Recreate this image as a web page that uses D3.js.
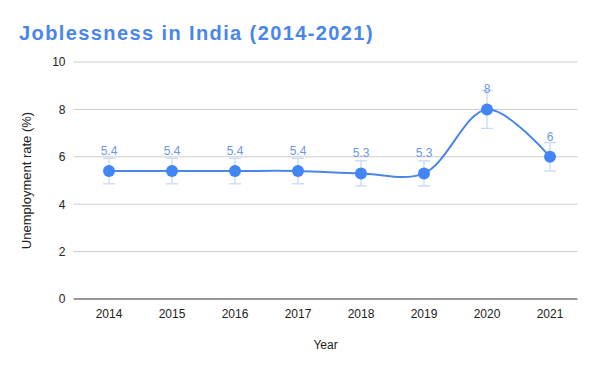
<!DOCTYPE html>
<html>
<head>
<meta charset="utf-8">
<script src="https://cdn.jsdelivr.net/npm/d3@7"></script>
<style>
  body { margin: 0; background: #fff; }
  text { font-family: Arial, "Liberation Sans", sans-serif; }
</style>
</head>
<body>
<div id="chart"></div>
<script>
// Data
const years = ["2014", "2015", "2016", "2017", "2018", "2019", "2020", "2021"];
const rates = [5.4, 5.4, 5.4, 5.4, 5.3, 5.3, 8, 6];
const rateLabels = ["5.4", "5.4", "5.4", "5.4", "5.3", "5.3", "8", "6"];
const yTicks = [0, 2, 4, 6, 8, 10];
const errorPct = 0.1; // error bars are +/- 10% of the value

const w = 600;
const h = 371;
const padLeft = 77.5;
const padRight = 581.5;
const padTop = 62;
const padBottom = 299;

const svg = d3.select("#chart")
  .append("svg")
  .attr("width", w)
  .attr("height", h);

const xScale = d3.scaleBand()
  .domain(years)
  .range([padLeft, padRight]);

const yScale = d3.scaleLinear()
  .domain([0, 10])
  .range([padBottom, padTop]);

// Gridlines
svg.append("g")
  .selectAll("line")
  .data(yTicks.filter(d => d !== 0))
  .enter()
  .append("line")
    .attr("x1", padLeft - 4)
    .attr("x2", padRight - 4)
    .attr("y1", d => yScale(d))
    .attr("y2", d => yScale(d))
    .attr("stroke", "#cccccc")
    .attr("stroke-width", 1);

// Y axis labels
const yAxis = d3.axisLeft(yScale).tickValues(yTicks).tickSize(0).tickPadding(8);
const yG = svg.append("g")
  .attr("transform", "translate(" + (padLeft - 4) + ",0)")
  .call(yAxis);
yG.select(".domain").remove();
yG.selectAll("text").attr("font-size", 12).attr("fill", "#222");

// X axis
const xAxis = d3.axisBottom(xScale).tickSize(0).tickPadding(10);
const xG = svg.append("g")
  .attr("transform", "translate(0," + padBottom + ")")
  .call(xAxis);
xG.select(".domain").remove();
xG.selectAll("text").attr("font-size", 12).attr("fill", "#222");

svg.append("line")
  .attr("x1", padLeft - 4)
  .attr("x2", padRight - 4)
  .attr("y1", yScale(0))
  .attr("y2", yScale(0))
  .attr("stroke", "#333")
  .attr("stroke-width", 1);

const cx = d => xScale(d) + xScale.bandwidth() / 2;
const pts = years.map((y, i) => ({ year: y, v: rates[i], label: rateLabels[i] }));

// Error bars
const eb = svg.append("g").attr("stroke", "#c6d9f7").attr("stroke-width", 1.3);
pts.forEach(d => {
  const hi = yScale(d.v * (1 + errorPct));
  const lo = yScale(d.v * (1 - errorPct));
  const x = cx(d.year);
  eb.append("line").attr("x1", x).attr("x2", x).attr("y1", hi).attr("y2", lo);
  eb.append("line").attr("x1", x - 6).attr("x2", x + 6).attr("y1", hi).attr("y2", hi);
  eb.append("line").attr("x1", x - 6).attr("x2", x + 6).attr("y1", lo).attr("y2", lo);
});

// Smooth line
const line = d3.line()
  .x(d => cx(d.year))
  .y(d => yScale(d.v))
  .curve(d3.curveCatmullRom.alpha(0.5));

svg.append("path")
  .datum(pts)
  .attr("d", line)
  .attr("fill", "none")
  .attr("stroke", "#4a86e8")
  .attr("stroke-width", 2);

// Points
svg.append("g")
  .selectAll("circle")
  .data(pts)
  .enter()
  .append("circle")
    .attr("cx", d => cx(d.year))
    .attr("cy", d => yScale(d.v))
    .attr("r", 6)
    .attr("fill", "#4285f4");

// Value labels
svg.append("g")
  .selectAll("text")
  .data(pts)
  .enter()
  .append("text")
    .attr("x", d => cx(d.year))
    .attr("y", d => yScale(d.v) - 16)
    .attr("text-anchor", "middle")
    .attr("font-size", 12)
    .attr("fill", "#6a98e4")
    .text(d => d.label);

// Title
svg.append("text")
  .attr("x", 19)
  .attr("y", 40)
  .attr("font-size", 20)
  .attr("font-weight", "bold")
  .attr("letter-spacing", 1.4)
  .attr("fill", "#4a86e8")
  .text("Joblessness in India (2014-2021)");

// Axis titles
svg.append("text")
  .attr("text-anchor", "middle")
  .attr("x", (padLeft + padRight) / 2 - 4)
  .attr("y", 349)
  .attr("font-size", 12)
  .attr("fill", "#222")
  .text("Year");

svg.append("text")
  .attr("text-anchor", "middle")
  .attr("transform", "translate(31," + (padTop + padBottom) / 2 + ") rotate(-90)")
  .attr("font-size", 13)
  .attr("fill", "#222")
  .text("Unemployment rate (%)");
</script>
</body>
</html>
